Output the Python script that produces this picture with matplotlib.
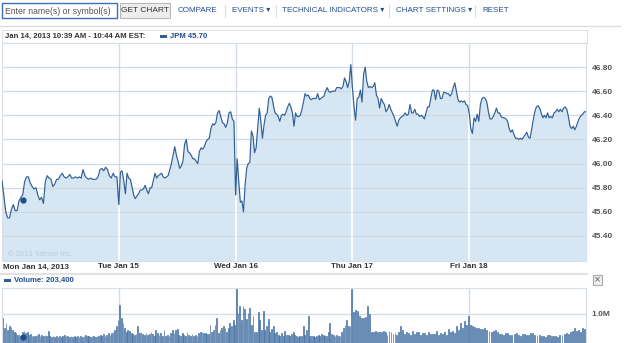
import numpy as np
import matplotlib.pyplot as plt
from matplotlib.patches import Rectangle
import matplotlib.transforms as mtransforms

# цены JPM по дням (5-минутки)
mon_price = [45.86, 45.73, 45.60, 45.55, 45.55, 45.62, 45.66, 45.61, 45.61, 45.69, 45.72, 45.74, 45.85,
             45.89, 45.89, 45.84, 45.81, 45.79, 45.80, 45.74, 45.70, 45.72, 45.67, 45.85, 45.90, 45.88,
             45.87, 45.81, 45.83, 45.87, 45.87, 45.90, 45.92, 45.89, 45.88, 45.89, 45.91, 45.88, 45.88,
             45.89, 45.88, 45.89, 45.88, 45.95, 45.90, 45.88, 45.87, 45.88, 45.87, 45.87, 45.87, 45.89,
             45.95, 45.96, 45.94, 45.97, 45.95, 45.90, 45.88, 45.92, 45.89, 45.89]
tue_price = [45.66, 45.93, 45.94, 45.86, 45.75, 45.92, 45.88, 45.87, 45.81, 45.74, 45.71, 45.73, 45.75,
             45.78, 45.78, 45.79, 45.82, 45.78, 45.75, 45.80, 45.80, 45.86, 45.92, 45.88, 45.90, 45.91,
             45.92, 45.89, 45.88, 45.89, 45.90, 45.95, 46.00, 46.07, 46.14, 46.07, 46.02, 45.96, 45.98,
             46.02, 46.16, 46.20, 46.10, 46.09, 46.07, 46.04, 46.04, 46.02, 46.00, 46.10, 46.13, 46.12,
             46.14, 46.18, 46.20, 46.21, 46.29, 46.33, 46.32, 46.34, 46.42, 46.44, 46.39, 46.34, 46.33,
             46.30, 46.34, 46.42, 46.43, 46.37, 46.35]
wed_price = [45.74, 46.04, 45.85, 45.68, 45.69, 45.60, 45.82, 45.96, 46.00, 46.01, 46.27, 46.23, 46.09,
             46.13, 46.29, 46.46, 46.35, 46.21, 46.32, 46.40, 46.42, 46.54, 46.56, 46.55, 46.48, 46.42,
             46.41, 46.39, 46.35, 46.40, 46.41, 46.40, 46.43, 46.47, 46.50, 46.47, 46.42, 46.31, 46.42,
             46.39, 46.39, 46.40, 46.45, 46.51, 46.58, 46.56, 46.57, 46.54, 46.53, 46.54, 46.54, 46.54,
             46.58, 46.53, 46.54, 46.55, 46.56, 46.60, 46.63, 46.60, 46.59, 46.60, 46.60, 46.60, 46.63,
             46.63, 46.63, 46.62, 46.64, 46.71, 46.68, 46.63, 46.68, 46.82]
thu_price = [46.63, 46.47, 46.36, 46.54, 46.55, 46.61, 46.51, 46.74, 46.80, 46.68, 46.63, 46.64, 46.63,
             46.64, 46.67, 46.57, 46.54, 46.46, 46.54, 46.51, 46.49, 46.43, 46.45, 46.49, 46.45, 46.42,
             46.39, 46.35, 46.31, 46.36, 46.38, 46.39, 46.40, 46.42, 46.40, 46.41, 46.49, 46.42, 46.42,
             46.45, 46.41, 46.41, 46.39, 46.40, 46.39, 46.37, 46.42, 46.47, 46.47, 46.54, 46.61, 46.61,
             46.53, 46.61, 46.60, 46.54, 46.54, 46.59, 46.59, 46.58, 46.58, 46.56, 46.58, 46.63, 46.67,
             46.60, 46.53, 46.51, 46.52, 46.51, 46.52, 46.49, 46.48]
fri_price = [46.42, 46.29, 46.25, 46.38, 46.35, 46.41, 46.35, 46.49, 46.54, 46.55, 46.54, 46.51, 46.43,
             46.37, 46.37, 46.39, 46.42, 46.46, 46.42, 46.42, 46.39, 46.38, 46.38, 46.37, 46.35, 46.29,
             46.26, 46.28, 46.24, 46.21, 46.21, 46.20, 46.21, 46.20, 46.22, 46.24, 46.26, 46.22, 46.21,
             46.28, 46.36, 46.43, 46.47, 46.48, 46.46, 46.42, 46.38, 46.40, 46.38, 46.42, 46.38, 46.39,
             46.38, 46.42, 46.43, 46.45, 46.43, 46.45, 46.43, 46.46, 46.47, 46.45, 46.39, 46.31, 46.29,
             46.31, 46.28, 46.31, 46.35, 46.38, 46.40, 46.41, 46.43]

# объём, млн акций
mon_vol = [0.85, 0.51, 0.68, 0.45, 0.59, 0.55, 0.45, 0.39, 0.34, 0.28, 0.31, 0.25, 0.36, 0.42, 0.34, 0.36,
           0.28, 0.31, 0.25, 0.23, 0.25, 0.28, 0.31, 0.23, 0.28, 0.23, 0.28, 0.25, 0.42, 0.23, 0.20, 0.23,
           0.20, 0.23, 0.20, 0.23, 0.20, 0.25, 0.28, 0.23, 0.25, 0.20, 0.23, 0.20, 0.23, 0.20, 0.25, 0.20,
           0.23, 0.20, 0.23, 0.28, 0.23, 0.25, 0.20, 0.23, 0.25, 0.20, 0.23, 0.25, 0.28, 0.23, 0.31, 0.25,
           0.28, 0.34, 0.28, 0.34, 0.39, 0.45, 0.57, 0.80]
tue_vol = [1.31, 0.85, 0.68, 0.51, 0.36, 0.45, 0.42, 0.34, 0.31, 0.28, 0.31, 0.57, 0.34, 0.36, 0.31, 0.28,
           0.34, 0.28, 0.31, 0.36, 0.31, 0.25, 0.45, 0.34, 0.28, 0.34, 0.25, 0.45, 0.25, 0.28, 0.23, 0.34,
           0.45, 0.34, 0.45, 0.48, 0.28, 0.23, 0.34, 0.28, 0.25, 0.36, 0.28, 0.23, 0.31, 0.25, 0.28, 0.23,
           0.34, 0.36, 0.39, 0.34, 0.34, 0.31, 0.31, 0.62, 0.36, 0.45, 0.62, 0.85, 0.34, 0.45, 0.51, 0.57,
           0.51, 0.39, 0.51, 0.70, 0.57, 0.80, 0.62]
wed_vol = [1.88, 1.02, 1.25, 0.80, 1.25, 1.16, 0.82, 1.02, 1.21, 0.62, 0.91, 0.39, 0.36, 1.06, 0.80, 0.45,
           1.08, 0.45, 0.57, 0.82, 0.39, 0.48, 0.59, 0.34, 0.39, 0.28, 0.25, 0.34, 0.25, 0.42, 0.28, 0.28,
           0.25, 0.31, 0.39, 0.28, 0.23, 0.20, 0.25, 0.23, 0.57, 0.28, 0.45, 0.91, 0.23, 0.25, 0.23, 0.20,
           0.25, 0.28, 0.25, 0.31, 0.28, 0.23, 0.25, 0.36, 0.70, 0.31, 0.28, 0.25, 0.28, 0.23, 0.25, 0.39,
           0.51, 0.62, 0.80, 0.59, 0.59, 1.84]
thu_vol = [1.06, 1.13, 1.08, 0.91, 0.85, 0.85, 0.88, 1.25, 1.00, 0.39, 0.36, 0.42, 0.39, 0.36, 0.39, 0.42,
           0.36, 0.28, 0.42, 0.36, 0.31, 0.34, 0.28, 0.36, 0.57, 0.44, 0.30, 0.38, 0.34, 0.27, 0.42, 0.32,
           0.36, 0.38, 0.29, 0.33, 0.34, 0.27, 0.38, 0.32, 0.30, 0.32, 0.42, 0.28, 0.34, 0.31, 0.38, 0.29,
           0.47, 0.36, 0.42, 0.33, 0.57, 0.45, 0.70, 0.52, 0.76, 0.63, 0.92]
fri_vol = [0.63, 0.58, 0.54, 0.50, 0.51, 0.47, 0.49, 0.51, 0.44, 0.42, 0.38, 0.40, 0.44, 0.36, 0.32, 0.30,
           0.29, 0.33, 0.34, 0.28, 0.29, 0.31, 0.34, 0.27, 0.25, 0.30, 0.32, 0.27, 0.29, 0.33, 0.34, 0.28,
           0.29, 0.26, 0.25, 0.24, 0.22, 0.27, 0.29, 0.24, 0.25, 0.23, 0.22, 0.26, 0.29, 0.31, 0.34, 0.30,
           0.38, 0.42, 0.51, 0.40, 0.44, 0.38, 0.51, 0.47]

day_labels = ['Mon Jan 14, 2013', 'Tue Jan 15', 'Wed Jan 16', 'Thu Jan 17', 'Fri Jan 18']
price_ticks = [45.40, 45.60, 45.80, 46.00, 46.20, 46.40, 46.60, 46.80]
mark_time = 69 / 390      # 10:39 от открытия (доля дня)
mark_price = 45.70
mark_volume = 0.2034

prices = [mon_price, tue_price, wed_price, thu_price, fri_price]
volumes = [mon_vol, tue_vol, wed_vol, thu_vol, fri_vol]

W, H = 625, 343
LINE = '#2f5f95'
FILL = '#d6e6f2'
GRID = '#d3dde7'
LINK = '#1f4f8f'
FONT = 'Liberation Sans'

fig = plt.figure(figsize=(W / 100, H / 100), dpi=100)
fig.patch.set_facecolor('white')


def px_axes(x0, y0, x1, y1):
    # прямоугольник в пикселях (сверху вниз) -> доли фигуры
    return fig.add_axes([x0 / W, 1 - y1 / H, (x1 - x0) / W, (y1 - y0) / H])


# --- верхняя панель с кнопками (в пикселях) ---
ui = px_axes(0, 0, W, H)
ui.set_xlim(0, W)
ui.set_ylim(H, 0)
ui.axis('off')
ui.add_patch(Rectangle((2, 3), 115, 15, fc='white', ec='#3b6fb6', lw=1.0))
ui.text(5, 11, 'Enter name(s) or symbol(s)', fontsize=6.2, color='#555555', va='center', family=FONT)
ui.add_patch(Rectangle((120, 3), 50, 15, fc='#eeeeee', ec='#b8b8b8', lw=0.8))
ui.text(145, 11, 'GET CHART', fontsize=6.0, color='#333333', va='center', ha='center', family=FONT)
for x, t in [(178, 'COMPARE'), (232, 'EVENTS \u25be'), (282, 'TECHNICAL INDICATORS \u25be'),
             (396, 'CHART SETTINGS \u25be'), (482, 'RESET')]:
    ui.text(x, 11, t, fontsize=5.8, color=LINK, va='center', family=['Liberation Sans', 'DejaVu Sans'])
for x in [225, 276, 389, 475]:
    ui.plot([x, x], [5, 17], color='#dddddd', lw=0.8)
ui.plot([0, 620], [26, 26], color='#dddddd', lw=1.0)
ui.add_patch(Rectangle((2, 30), 585, 13, fc='white', ec='#dde3ea', lw=0.8))
ui.text(5, 36.5, 'Jan 14, 2013 10:39 AM - 10:44 AM EST:', fontsize=5.6, color='#333333',
        va='center', weight='bold', family=FONT)
ui.add_patch(Rectangle((160, 35), 7, 3, fc=LINE, ec='none'))
ui.text(170, 36.5, 'JPM 45.70', fontsize=5.6, color=LINK, va='center', weight='bold', family=FONT)
# подписи дней и панель объёма
ui.plot([0, 587], [274, 274], color='#e2e2e2', lw=1.5)
ui.add_patch(Rectangle((4, 278.5), 7, 3, fc=LINE, ec='none'))
ui.text(14, 280.5, 'Volume: 203,400', fontsize=5.6, color=LINK, va='center', weight='bold', family=FONT)
ui.add_patch(Rectangle((593, 275), 9, 10, fc='#eeeeee', ec='#aaaaaa', lw=0.8))
ui.text(597.5, 280, '\u00d7', fontsize=6, color='#555555', va='center', ha='center')

# --- график цены ---
ax = px_axes(2, 43, 586, 260.7)
ax.set_xlim(0, 5)
ax.set_ylim(45.195, 47.0)
xs_all, ys_all = [], []
for d, p in enumerate(prices):
    xs_all.extend(d + np.arange(len(p)) / len(p))
    ys_all.extend(p)
xs_all.append(5)
ys_all.append(fri_price[-1])
for d in range(1, 5):
    ax.axvline(d, color=GRID, lw=1.0, zorder=0)
ax.fill_between(xs_all, ys_all, 45.195, color=FILL, lw=0, zorder=1)
for v in price_ticks:
    ax.axhline(v, color='#cdd9e4', lw=0.9, zorder=2)
for d in range(1, 5):
    ax.vlines(d, 45.195, prices[d][0], color='white', lw=1.2, zorder=2)
ax.plot(xs_all, ys_all, color=LINE, lw=0.85, zorder=3)
ax.plot([mark_time], [mark_price], 'o', color='#1f4f8f', ms=3.5, zorder=4)
ax.text(0.01, 0.02, '\u00a9 2013 Yahoo! Inc.', transform=ax.transAxes, fontsize=5.5,
        color='#bccbd9', family=FONT)
ax.yaxis.tick_right()
ax.set_yticks(price_ticks)
ax.set_yticklabels([f'{v:.2f}' for v in price_ticks])
ax.tick_params(axis='y', length=0, pad=4, labelsize=6, labelcolor='#555555')
for lbl in ax.get_yticklabels():
    lbl.set_fontweight('bold')
    lbl.set_family(FONT)
ax.set_xticks([])
for s in ax.spines.values():
    s.set_color('#d8dee6')
    s.set_linewidth(0.8)

trans = mtransforms.blended_transform_factory(ax.transData, fig.transFigure)
for d, lab in enumerate(day_labels):
    ax.text(0.005 if d == 0 else d, 1 - 267 / H, lab, transform=trans, fontsize=5.8, weight='bold',
            color='#333333', ha='left' if d == 0 else 'center', va='center', family=FONT)

# --- объём ---
av = px_axes(2, 287.7, 586, H)
av.set_xlim(0, 5)
av.set_ylim(0, 1.89)
for d in range(1, 5):
    av.axvline(d, color=GRID, lw=1.0, zorder=0)
av.axhline(1.0, color=GRID, lw=1.0, zorder=0)
for d, v in enumerate(volumes):
    n = len(v)
    bx = d + (np.arange(n) + 0.5) / n
    av.bar(bx, v, width=0.45 / n, color='#9dbbd9', edgecolor='#2f5f95', lw=0.45, zorder=2)
av.plot([mark_time], [mark_volume], 'o', color='#1f4f8f', ms=3.5, zorder=4)
av.yaxis.tick_right()
av.set_yticks([1.0])
av.set_yticklabels(['1.0M'])
av.tick_params(axis='y', length=0, pad=4, labelsize=6, labelcolor='#555555')
for lbl in av.get_yticklabels():
    lbl.set_fontweight('bold')
    lbl.set_family(FONT)
av.set_xticks([])
for k, s in av.spines.items():
    s.set_color('#d8dee6')
    s.set_linewidth(0.8)
av.spines['bottom'].set_visible(False)

plt.savefig('out.png', dpi=100)
